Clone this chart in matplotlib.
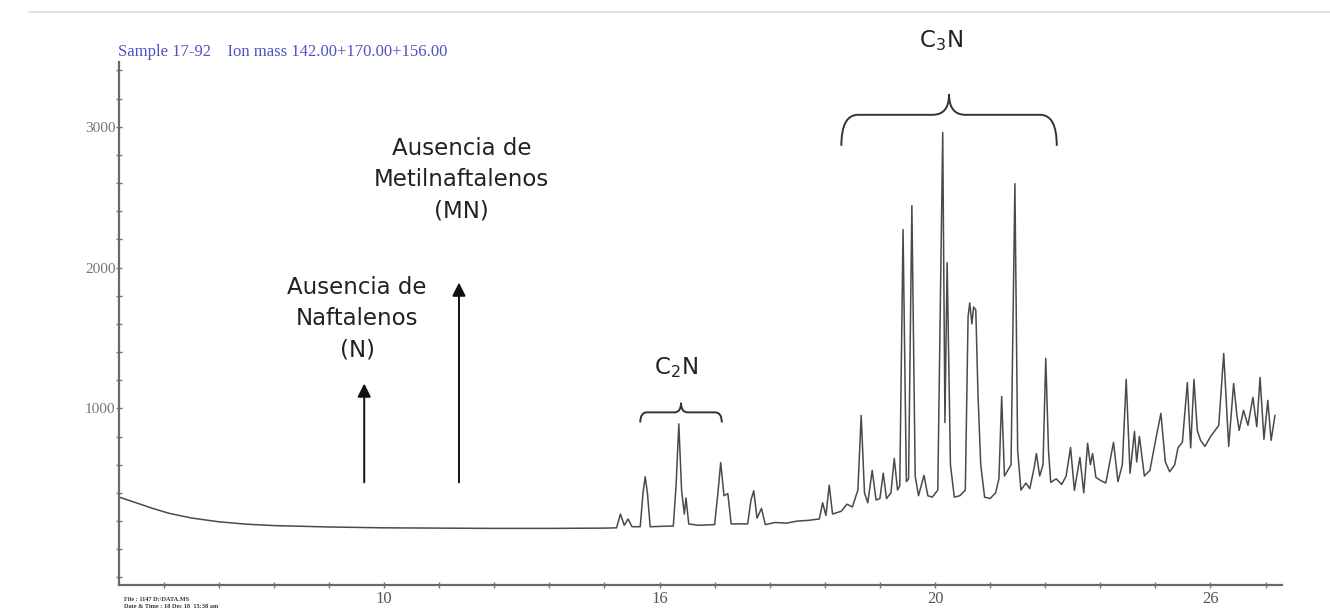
import numpy as np
import matplotlib
matplotlib.use('Agg')
import matplotlib.pyplot as plt
from matplotlib.path import Path
from matplotlib.patches import PathPatch
from matplotlib.ticker import MultipleLocator, FixedLocator
from matplotlib.lines import Line2D

# retention time (min) / abundance
rt = [5.19, 5.5, 5.8, 6.1, 6.5, 7.0, 7.5, 8.0, 9.0, 10.0, 11.0, 12.0, 13.0, 14.0,
      14.22, 14.29, 14.36, 14.43, 14.5, 14.65, 14.70, 14.74, 14.78, 14.83,
      15.25, 15.30, 15.35, 15.40, 15.45, 15.48, 15.53, 15.7, 16.0, 16.06, 16.11,
      16.17, 16.24, 16.30, 16.6, 16.66, 16.71, 16.77, 16.85, 16.92, 17.1, 17.3,
      17.5, 17.7, 17.9, 17.96, 18.02, 18.08, 18.14, 18.3, 18.4, 18.5, 18.6,
      18.66, 18.72, 18.78, 18.86, 18.93, 19.0, 19.06, 19.12, 19.2, 19.26, 19.32,
      19.36, 19.42, 19.48, 19.52, 19.58, 19.64, 19.70, 19.80, 19.87, 19.95,
      20.05, 20.14, 20.18, 20.22, 20.28, 20.35, 20.45, 20.55, 20.60, 20.63,
      20.67, 20.70, 20.74, 20.78, 20.83, 20.9, 21.0, 21.1, 21.16, 21.21, 21.26,
      21.32, 21.38, 21.45, 21.50, 21.56, 21.65, 21.72, 21.80, 21.84, 21.90,
      21.96, 22.01, 22.06, 22.10, 22.2, 22.3, 22.38, 22.46, 22.53, 22.63, 22.70,
      22.77, 22.82, 22.86, 22.92, 23.0, 23.1, 23.24, 23.32, 23.40, 23.47, 23.54,
      23.62, 23.66, 23.71, 23.80, 23.90, 24.01, 24.10, 24.18, 24.26, 24.35,
      24.41, 24.49, 24.58, 24.64, 24.70, 24.76, 24.82, 24.90, 25.0, 25.15,
      25.24, 25.33, 25.42, 25.48, 25.52, 25.60, 25.68, 25.77, 25.84, 25.90,
      25.97, 26.04, 26.10, 26.17]
abundance = [370, 330, 290, 255, 222, 195, 178, 168, 158, 152, 150, 148, 148, 150,
             152, 250, 170, 215, 160, 160, 400, 515, 400, 160,
             165, 450, 890, 420, 250, 365, 180, 170, 175, 400, 615,
             380, 395, 180, 180, 350, 415, 220, 290, 175, 190, 185,
             200, 205, 215, 330, 240, 455, 250, 270, 320, 300, 420,
             950, 400, 330, 560, 350, 360, 540, 360, 400, 645, 420,
             450, 2270, 480, 500, 2440, 520, 380, 525, 380, 370,
             420, 2960, 900, 2035, 600, 370, 380, 420, 1650, 1750,
             1600, 1720, 1700, 1100, 600, 370, 360, 400, 500, 1085, 520,
             560, 600, 2596, 700, 420, 470, 430, 580, 680, 520,
             600, 1355, 700, 475, 500, 460, 520, 723, 418, 652, 400,
             752, 600, 680, 510, 490, 470, 759, 480, 600, 1206, 539,
             837, 620, 801, 520, 560, 787, 965, 620, 550, 600,
             720, 760, 1184, 720, 1206, 844, 773, 730, 800, 879,
             1390, 730, 1177, 950, 844, 986, 880, 1078, 870, 1220,
             780, 1057, 773, 950]

xtick_pos = [10, 15, 20, 25]
xtick_labels = ['10', '16', '20', '26']
ytick_pos = [1000, 2000, 3000]
ytick_labels = ['1000', '2000', '3000']

header = 'Sample 17-92    Ion mass 142.00+170.00+156.00'
file_info = 'File : 1147 D:\\DATA.MS\nDate & Time : 18 Dec 18  15:38 am'

fig = plt.figure(figsize=(13.3, 6.14), dpi=100)
ax = fig.add_axes([0.0895, 0.047, 0.8745, 0.852])

ax.plot(rt, abundance, color='#4a4a4a', lw=1.1)

ax.set_xlim(5.19, 26.3)
ax.set_ylim(-255, 3460)

for s in ['top', 'right']:
    ax.spines[s].set_visible(False)
for s in ['left', 'bottom']:
    ax.spines[s].set_color('#6a6a6a')
    ax.spines[s].set_linewidth(1.6)

ax.xaxis.set_major_locator(FixedLocator(xtick_pos))
ax.set_xticklabels(xtick_labels)
ax.xaxis.set_minor_locator(MultipleLocator(1))
ax.yaxis.set_major_locator(FixedLocator(ytick_pos))
ax.set_yticklabels(ytick_labels)
ax.yaxis.set_minor_locator(MultipleLocator(200))
ax.tick_params(which='both', direction='inout', color='#777777', width=1)
ax.tick_params(which='minor', length=4)
ax.tick_params(axis='x', which='major', length=5, pad=2, labelsize=12, labelcolor='#555555')
ax.tick_params(axis='y', which='major', length=5, pad=0, labelsize=11, labelcolor='#777777')
for lab in ax.get_xticklabels() + ax.get_yticklabels():
    lab.set_family('Liberation Serif')

# header and file info
fig.text(0.0887, 0.915, header, color='#5050c8', fontsize=12,
         family='Liberation Serif', va='center', ha='left')
fig.text(0.093, 0.018, file_info, color='#333333', fontsize=4.5,
         family='Liberation Serif', fontweight='bold', va='center', ha='left',
         linespacing=1.4)

# thin frame line at the top of the picture
fig.add_artist(Line2D([0.022, 1.0], [0.98, 0.98], transform=fig.transFigure,
                      color='#dddddd', lw=1.2))

# arrows marking missing compounds
arrow_kw = dict(arrowstyle='-|>', color='#111111', lw=1.4, mutation_scale=20,
                shrinkA=0, shrinkB=0)
ax.annotate('', xy=(9.64, 1177), xytext=(9.64, 475), arrowprops=arrow_kw)
ax.annotate('', xy=(11.36, 1894), xytext=(11.36, 475), arrowprops=arrow_kw)

txt_kw = dict(ha='center', va='center', fontsize=16.5, color='#222222',
              family='DejaVu Sans', linespacing=1.45)
ax.text(9.51, 1638, 'Ausencia de\nNaftalenos\n(N)', **txt_kw)
ax.text(11.41, 2624, 'Ausencia de\nMetilnaftalenos\n(MN)', **txt_kw)


def brace(x0, x1, y_bot, y_top, y_tip, rx):
    xc = (x0 + x1) / 2
    verts = [(x0, y_bot), (x0, y_top), (x0 + rx, y_top),
             (xc - rx, y_top), (xc, y_top), (xc, y_tip),
             (xc, y_top), (xc + rx, y_top),
             (x1 - rx, y_top), (x1, y_top), (x1, y_bot)]
    codes = [Path.MOVETO, Path.CURVE3, Path.CURVE3,
             Path.LINETO, Path.CURVE3, Path.CURVE3,
             Path.CURVE3, Path.CURVE3,
             Path.LINETO, Path.CURVE3, Path.CURVE3]
    ax.add_patch(PathPatch(Path(verts, codes), fill=False, ec='#333333',
                           lw=1.4, clip_on=False))


brace(14.65, 16.13, 900, 972, 1040, 0.12)
ax.text(15.3, 1291, 'C$_2$N', **txt_kw)
brace(18.30, 22.21, 2865, 3085, 3230, 0.3)
ax.text(20.1, 3610, 'C$_3$N', **txt_kw)

plt.savefig('out.png', dpi=100)
